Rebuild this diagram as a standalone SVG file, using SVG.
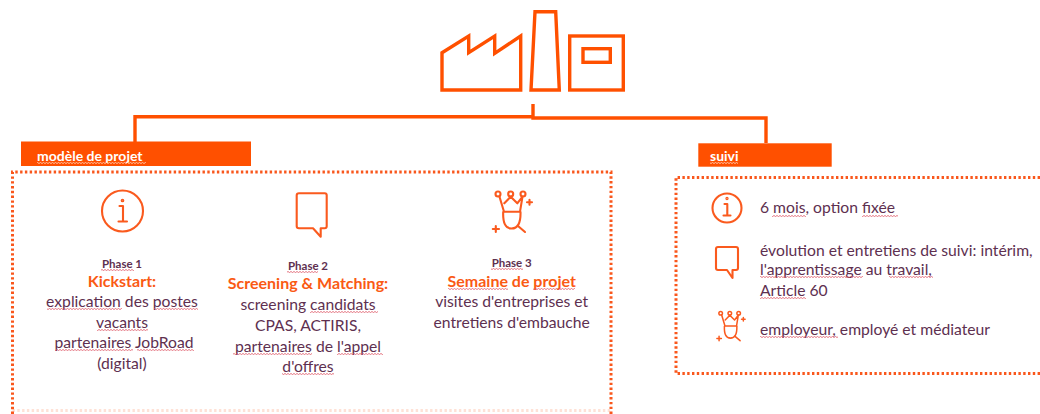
<svg xmlns="http://www.w3.org/2000/svg" width="1040" height="414" viewBox="0 0 1040 414">
<style>
text{font-family:"Lato","Liberation Sans",sans-serif;font-size:15.7px;fill:#5e3050}
.c{text-anchor:middle}
.ph{font-size:11.5px;font-weight:700}
.t{font-size:16px;font-weight:700;fill:#fa5a14}
.h{font-size:14px;font-weight:700;fill:#fff}
.s{fill:url(#sq)}
.sw{fill:url(#sqw)}
.ln{fill:none;stroke:#ff5000;stroke-width:3.4}
.ic{fill:none;stroke:#fa5a1e;stroke-width:2.100;stroke-linecap:round;stroke-linejoin:round}
.dot{fill:none;stroke:#f9571c;stroke-width:3;stroke-dasharray:2.4 2.4}
.bar{fill:#ff5000}
</style>
<defs>
<pattern id="sq" width="3" height="2" patternUnits="userSpaceOnUse"><path d="M0 1.500L1.500 .5L3 1.500" fill="none" stroke="#dc5060" stroke-width=".8"/></pattern>
<pattern id="sqw" width="3" height="2" patternUnits="userSpaceOnUse"><path d="M0 1.500L1.500 .5L3 1.500" fill="none" stroke="#ffd8c8" stroke-width=".8"/></pattern>
<g id="crown" class="ic">
<circle cx="498" cy="194" r="2.500"/><circle cx="510.700" cy="194" r="2.500"/><circle cx="523" cy="194" r="2.500"/>
<path d="M499.500 196.700L504 211.700H520L522.500 196.700L517.300 203.300L510.700 196.700L504.300 203.300"/>
<path d="M503.200 212Q502.500 228.500 511.500 228.500Q521 228.500 520.500 212"/>
<path d="M518 226L525 232M527 202.300H532M529.500 199.800V204.800M492.800 229H499M495.800 226V232"/>
</g>
</defs>
<g id="connectors">
<path class="ln" d="M135 142V116.700H533V104M533 116.700V118H766V143"/>
</g>
<g id="factory">
<path class="ln" d="M442 90V52.700L468.700 36V52.700L494.700 36V53.300L520.700 36V90Z"/>
<path class="ln" d="M535 11.700H555.700L559.300 90H531Z"/>
<rect class="ln" x="569.700" y="36" width="53.600" height="54"/>
<rect class="ln" x="583" y="48.700" width="27.300" height="13.600"/>
</g>
<g id="modele-header">
<rect class="bar" x="21" y="141.500" width="230" height="24.500"/>
<text class="h" x="37" y="161">modèle de projet</text>
<rect class="sw" x="37" y="162" width="109" height="2"/>
</g>
<g id="suivi-header">
<rect class="bar" x="698.300" y="143.300" width="133.400" height="23.400"/>
<text class="h" x="710" y="161">suivi</text>
<rect class="sw" x="710" y="162" width="28" height="2"/>
</g>
<g id="modele-box">
<path class="dot" d="M12.500 414V172H611V414"/>
<path class="dot" d="M12.500 410.500H611" opacity=".18"/>
</g>
<g id="suivi-box">
<path class="dot" d="M1040 177.500H676V373.500H1040"/>
</g>
<g id="phase1">
<g class="ic"><circle cx="122.500" cy="211" r="20.500"/><path d="M119.500 206H123V221M118.500 221.500H127"/><circle cx="122.500" cy="200.500" r=".8"/></g>
<text class="c ph" x="122" y="268">Phase 1</text>
<text class="c t" x="122" y="287">Kickstart:</text>
<text class="c" x="122" y="307">explication des postes</text>
<text class="c" x="122" y="328">vacants</text>
<text class="c" x="124" y="348">partenaires JobRoad</text>
<text class="c" x="122" y="369">(digital)</text>
<rect class="s" x="101" y="269" width="33" height="2"/>
<rect class="s" x="47" y="308" width="75" height="2"/>
<rect class="s" x="154" y="308" width="44" height="2"/>
<rect class="s" x="97" y="329" width="51" height="2"/>
<rect class="s" x="55" y="349" width="78" height="2"/>
<rect class="s" x="137" y="349" width="57" height="2"/>
</g>
<g id="phase2">
<path class="ic" d="M299 193.300H324.700Q326.700 193.300 326.700 195.300V226.300Q326.700 228.300 324.700 228.300H320.700V236.700L313 228.300H299Q296.700 228.300 296.700 226.300V195.300Q296.700 193.300 299 193.300Z"/>
<text class="c ph" x="308" y="270">Phase 2</text>
<text class="c t" x="308" y="289">Screening &amp; Matching:</text>
<text class="c" x="308" y="310">screening candidats</text>
<text class="c" x="308" y="331">CPAS, ACTIRIS,</text>
<text class="c" x="308" y="352">partenaires de l'appel</text>
<text class="c" x="308" y="372">d'offres</text>
<rect class="s" x="287" y="271" width="31" height="2"/>
<rect class="s" x="310" y="311" width="68" height="2"/>
<rect class="s" x="233" y="353" width="79" height="2"/>
<rect class="s" x="337" y="353" width="46" height="2"/>
<rect class="s" x="282" y="373" width="52" height="2"/>
</g>
<g id="phase3">
<use href="#crown"/>
<text class="c ph" x="511.700" y="267">Phase 3</text>
<text class="c t" x="511.700" y="287">Semaine de projet</text>
<text class="c" x="511.700" y="307">visites d'entreprises et</text>
<text class="c" x="511.700" y="328">entretiens d'embauche</text>
<rect class="s" x="491" y="268" width="32" height="2"/>
<rect class="s" x="448" y="288" width="60" height="2"/>
<rect class="s" x="533" y="288" width="42" height="2"/>
</g>
<g id="suivi-1">
<g class="ic"><circle cx="727" cy="208" r="14.500"/><path d="M724.500 204H727.300V215M723.500 215.500H730.500"/><circle cx="727" cy="198.500" r=".6"/></g>
<text x="760" y="213">6 mois, option fixée</text>
<rect class="s" x="772" y="215" width="34" height="2"/>
<rect class="s" x="862" y="215" width="36" height="2"/>
</g>
<g id="suivi-2">
<path class="ic" d="M718 247H736Q738 247 738 249V268Q738 270 736 270H732.500V278L727 270H718Q716 270 716 268V249Q716 247 718 247Z"/>
<text x="760" y="256">évolution et entretiens de suivi: intérim,</text>
<text x="760" y="275">l'apprentissage au travail,</text>
<text x="760" y="296">Article 60</text>
<rect class="s" x="760" y="276" width="103" height="2"/>
<rect class="s" x="889" y="276" width="44" height="2"/>
<rect class="s" x="760" y="297" width="46" height="2"/>
</g>
<g id="suivi-3">
<use href="#crown" transform="translate(362.100 173.600) scale(.72)"/>
<text x="760" y="335">employeur, employé et médiateur</text>
<rect class="s" x="760" y="336" width="78" height="2"/>
</g>
</svg>
